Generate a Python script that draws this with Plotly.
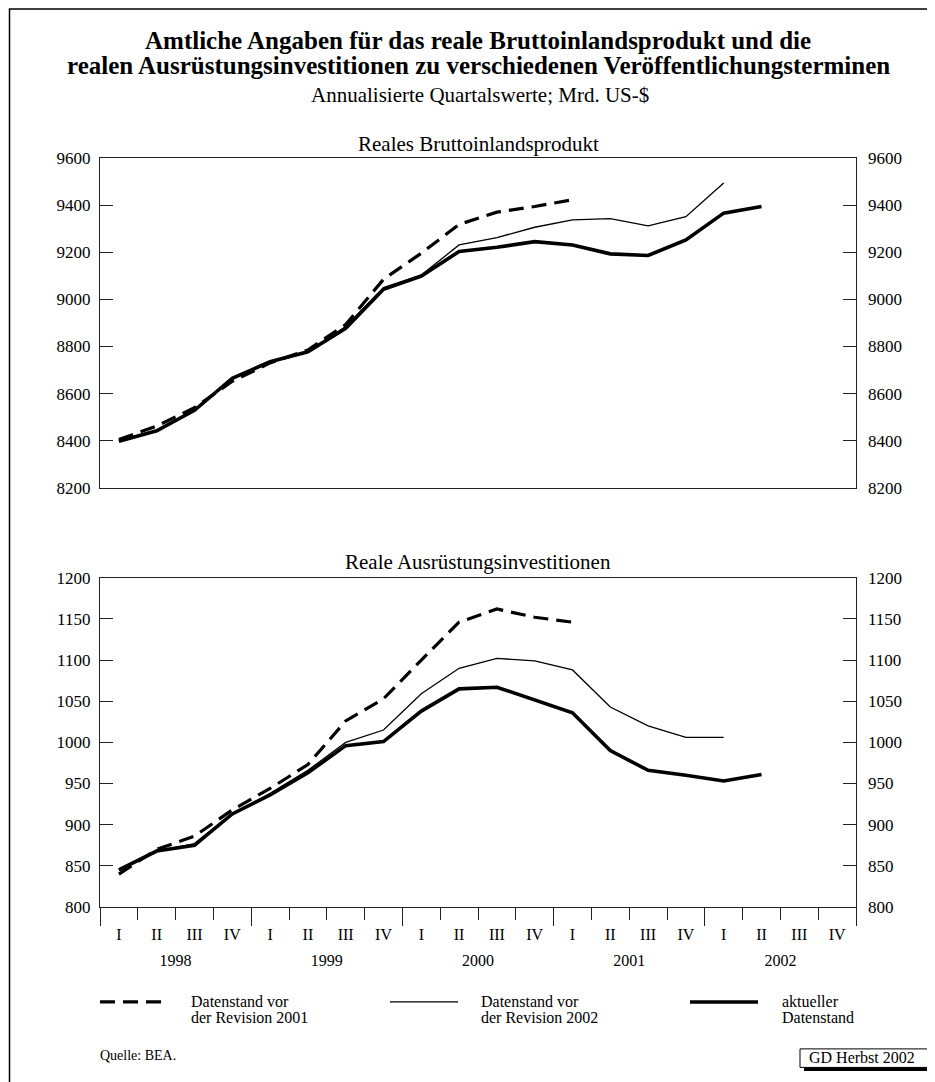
import numpy as np
import plotly.graph_objects as go

# ---------------- data ----------------
quarters = ["I", "II", "III", "IV"] * 5
years = ["1998", "1999", "2000", "2001", "2002"]

bip_aktuell = [8398, 8442, 8529, 8665, 8735, 8777, 8877, 9043, 9099, 9203,
               9221, 9245, 9231, 9193, 9186, 9252, 9366, 9394]
bip_rev2002 = [8399, 8445, 8532, 8667, 8735, 8779, 8885, 9050, 9103, 9231,
               9262, 9306, 9337, 9343, 9312, 9351, 9494]
bip_rev2001 = [8405, 8462, 8540, 8652, 8730, 8785, 8893, 9085, 9196, 9318,
               9370, 9394, 9423]

ausr_aktuell = [845, 868, 875, 913, 936, 963, 996, 1001, 1038, 1065,
                1067, 1052, 1036, 990, 966, 960, 953, 961]
ausr_rev2002 = [845, 868, 877, 913, 938, 966, 1000, 1015, 1059, 1090,
                1102, 1099, 1088, 1043, 1020, 1006, 1006]
ausr_rev2001 = [840, 870, 886, 918, 944, 973, 1026, 1053, 1100, 1146,
                1162, 1152, 1146]

bip_ticks = [8200, 8400, 8600, 8800, 9000, 9200, 9400, 9600]
ausr_ticks = [800, 850, 900, 950, 1000, 1050, 1100, 1150, 1200]

legend_labels = [("Datenstand vor", "der Revision 2001"),
                 ("Datenstand vor", "der Revision 2002"),
                 ("aktueller", "Datenstand")]

FONT = "Liberation Serif"
OFF = 8                      # page body margin of the html page
WIN_W, WIN_H = 935, 1082
W, H = WIN_W - OFF, WIN_H - OFF
# plot area in screenshot pixel coordinates
L, R, T, B = 100, 856, 157.5, 907


def px2x(px):
    return (px - L) / (R - L)


def py2y(py):
    return (B - py) / (B - T)


def xpos(vals):
    return np.arange(len(vals)) + 0.5


styles = {
    "rev2001": dict(color="black", width=3.2, dash="15px,8px"),
    "rev2002": dict(color="black", width=1.3),
    "aktuell": dict(color="black", width=3.6),
}

fig = go.Figure()
for name, vals in [("rev2002", bip_rev2002), ("aktuell", bip_aktuell), ("rev2001", bip_rev2001)]:
    fig.add_trace(go.Scatter(x=xpos(vals), y=vals, mode="lines", line=styles[name],
                             xaxis="x", yaxis="y", showlegend=False, hoverinfo="skip"))
for name, vals in [("rev2002", ausr_rev2002), ("aktuell", ausr_aktuell), ("rev2001", ausr_rev2001)]:
    fig.add_trace(go.Scatter(x=xpos(vals), y=vals, mode="lines", line=styles[name],
                             xaxis="x2", yaxis="y2", showlegend=False, hoverinfo="skip"))
# empty traces so that the overlaying label axes are drawn
for xa, ya in [("x", "y3"), ("x3", "y4"), ("x4", "y2")]:
    fig.add_trace(go.Scatter(x=[None], y=[None], mode="lines", xaxis=xa, yaxis=ya,
                             showlegend=False, hoverinfo="skip"))

top_dom = [py2y(487.5), 1.0]
bot_dom = [0.0, py2y(577.5)]

axcol = "#222"
common_y = dict(showline=True, linecolor=axcol, linewidth=1.3, ticks="inside", ticklen=13,
                tickwidth=1.3, tickcolor=axcol, mirror="ticks", showgrid=False, zeroline=False,
                tickfont=dict(family=FONT, size=17, color="black"), ticklabelstandoff=5)
right_y = dict(side="right", showline=False, ticks="", showgrid=False, zeroline=False,
               tickfont=dict(family=FONT, size=17, color="black"), ticklabelstandoff=11)

fig.update_layout(
    width=W, height=H,
    margin=dict(l=L - OFF, r=W - (R - OFF), t=T - OFF, b=H - (B - OFF), pad=0),
    paper_bgcolor="white", plot_bgcolor="white",
    xaxis=dict(domain=[0, 1], range=[0, 20], anchor="y", showline=True, mirror=True,
               linecolor=axcol, linewidth=1.3, ticks="", showticklabels=False,
               showgrid=False, zeroline=False),
    yaxis=dict(domain=top_dom, range=[8200, 9600], tickvals=bip_ticks, anchor="x", **common_y),
    yaxis3=dict(domain=top_dom, range=[8200, 9600], tickvals=bip_ticks, anchor="x",
                overlaying="y", **right_y),
    xaxis2=dict(domain=[0, 1], range=[0, 20], anchor="y2", showline=True, mirror=True,
                linecolor=axcol, linewidth=1.3, tickvals=[0, 4, 8, 12, 16, 20],
                ticks="outside", ticklen=18, tickwidth=1.3, tickcolor=axcol,
                showticklabels=False, showgrid=False, zeroline=False,
                minor=dict(tickvals=list(range(21)), ticks="outside", ticklen=12,
                           tickwidth=1.3, tickcolor=axcol, showgrid=False)),
    xaxis3=dict(domain=[0, 1], range=[0, 20], anchor="y2", overlaying="x2",
                tickvals=list(np.arange(20) + 0.5), ticktext=quarters, ticks="",
                showline=False, showgrid=False, zeroline=False,
                tickfont=dict(family=FONT, size=16, color="black"), ticklabelstandoff=16),
    xaxis4=dict(domain=[0, 1], range=[0, 20], anchor="y2", overlaying="x2",
                tickvals=[2, 6, 10, 14, 18], ticktext=years, ticks="",
                showline=False, showgrid=False, zeroline=False,
                tickfont=dict(family=FONT, size=16, color="black"), ticklabelstandoff=42),
    yaxis2=dict(domain=bot_dom, range=[800, 1200], tickvals=ausr_ticks, anchor="x2", **common_y),
    yaxis4=dict(domain=bot_dom, range=[800, 1200], tickvals=ausr_ticks, anchor="x2",
                overlaying="y2", **right_y),
)

ann = []


def text(px, py, s, size=15, bold=False, xanchor="center", align="center"):
    ann.append(dict(x=px2x(px), y=py2y(py), xref="paper", yref="paper", text=s,
                    showarrow=False, xanchor=xanchor, yanchor="middle", align=align,
                    font=dict(family=FONT, size=size, color="black",
                              weight="bold" if bold else "normal")))


text(478, 40, "Amtliche Angaben für das reale Bruttoinlandsprodukt und die", 25, True)
text(479, 65, "realen Ausrüstungsinvestitionen zu verschiedenen Veröffentlichungsterminen", 25, True)
text(480, 94, "Annualisierte Quartalswerte; Mrd. US-$", 21)
text(478, 143, "Reales Bruttoinlandsprodukt", 21)
text(478, 562, "Reale Ausrüstungsinvestitionen", 21)

shapes = []
leg = [(100, 166, "rev2001", 189), (390, 458, "rev2002", 479), (690, 758, "aktuell", 780)]
for (x0, x1, key, tx), (l1, l2) in zip(leg, legend_labels):
    st = styles[key]
    shapes.append(dict(type="line", xref="paper", yref="paper", x0=px2x(x0), x1=px2x(x1),
                       y0=py2y(1002), y1=py2y(1002),
                       line=dict(color="black", width=st["width"], dash=st.get("dash", "solid"))))
    text(tx, 1002, l1, 16, xanchor="left", align="left")
    text(tx, 1018, l2, 16, xanchor="left", align="left")

text(98, 1056, "Quelle: BEA.", 14, xanchor="left", align="left")

# outer frame
shapes.append(dict(type="rect", xref="paper", yref="paper", x0=px2x(9.5), x1=px2x(945),
                   y0=py2y(1095), y1=py2y(8.5), line=dict(color="black", width=1.5)))
# GD Herbst box with shadow
shapes.append(dict(type="rect", xref="paper", yref="paper", x0=px2x(804), x1=px2x(945),
                   y0=py2y(1071), y1=py2y(1053), fillcolor="black", line=dict(width=0)))
shapes.append(dict(type="rect", xref="paper", yref="paper", x0=px2x(800), x1=px2x(945),
                   y0=py2y(1067.5), y1=py2y(1049), fillcolor="white",
                   line=dict(color="black", width=1)))
text(807, 1058, "GD Herbst 2002", 16, xanchor="left", align="left")

fig.update_layout(annotations=ann, shapes=shapes)
fig.write_html("out.html")
